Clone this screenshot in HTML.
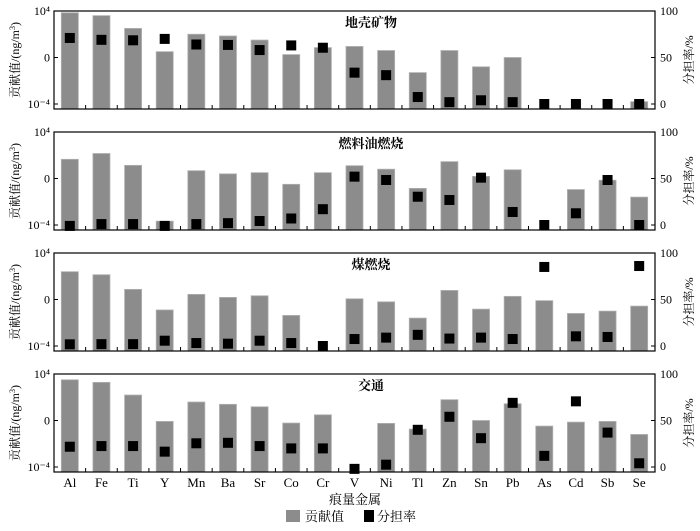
<!DOCTYPE html>
<html><head><meta charset="utf-8"><style>
body{margin:0;background:#fff}
svg text{font-family:"Liberation Serif","Noto Serif CJK SC",serif;fill:#000}
</style></head><body>
<svg id="c" width="700" height="526" viewBox="0 0 700 526" xmlns="http://www.w3.org/2000/svg"></svg>
<script>
const categories=["Al","Fe","Ti","Y","Mn","Ba","Sr","Co","Cr","V","Ni","Tl","Zn","Sn","Pb","As","Cd","Sb","Se"];
const panelTitles=["地壳矿物","燃料油燃烧","煤燃烧","交通"];
// log10 contribution values (null = no bar)
const contrib1=[3.85,3.6,2.5,0.5,2.0,1.85,1.5,0.25,0.85,0.95,0.6,-1.3,0.6,-0.8,0.0,null,null,null,-3.8];
const contrib2=[1.65,2.15,1.13,-3.67,0.67,0.4,0.5,-0.5,0.5,1.1,0.8,-0.85,1.45,0.18,0.75,null,-0.95,-0.15,-1.6];
const contrib3=[2.39,2.13,0.87,-0.9,0.44,0.18,0.32,-1.37,null,0.06,-0.2,-1.6,0.78,-0.83,0.27,-0.1,-1.2,-1.0,-0.57];
const contrib4=[3.5,3.28,2.19,-0.08,1.59,1.39,1.18,-0.22,0.49,null,-0.25,-0.74,1.79,0.0,1.44,-0.48,-0.14,-0.08,-1.2];
const share1=[71,69,68.5,70,64,63.5,58,63,60.5,33.7,31,7.5,2,4,2,0,0,0,0];
const share2=[-1,1,1,-1,1,2,4.3,7,17,52,48.4,30.4,26.9,50.9,14,0,12.6,48.4,0];
const share3=[1.8,2,2,5.7,3.2,2.5,5.7,3.2,0,7.5,9,12,8,9,7.5,85,10.4,9.7,86];
const share4=[21.8,22.5,22.5,16.5,25.5,26,22.5,20,20,-2,2.5,40,54,31,69,12,70.6,37,4];
const leftTicks=["10⁴","0","10⁻⁴"];
const rightTicks=["100","50","0"];
const contribs=[contrib1,contrib2,contrib3,contrib4];
const shares=[share1,share2,share3,share4];
const svg=document.getElementById('c');
const NS="http://www.w3.org/2000/svg";
function mk(t,a,txt){const e=document.createElementNS(NS,t);for(const k in a)e.setAttribute(k,a[k]);if(txt!==undefined)e.textContent=txt;svg.appendChild(e);return e;}
const L=54,R=655,W=(R-L)/categories.length;
const tops=[11,132,253,374];
function x(i){return L+(i+0.5)*W;}
tops.forEach((T,p)=>{
  const yLog=v=>T+46.5*(4-v)/4;
  const yPct=v=>T+93*(1-v/100);
  const B=T+98;
  contribs[p].forEach((v,i)=>{
    if(v===null)return;
    const r=mk('rect',{x:x(i)-8.5,y:yLog(v),width:17,height:B-yLog(v),fill:'#8c8c8c',stroke:'#b0b0b0','stroke-width':0.8});
    
    
  });
  shares[p].forEach((v,i)=>{
    const s=mk('rect',{x:x(i)-5,y:yPct(v)-5,width:10,height:10,fill:'#000'});
    
    
  });
  const f=mk('rect',{x:L,y:T,width:R-L,height:98,fill:'none',stroke:'#000','stroke-width':1.2});
  
  
  for(let i=1;i<categories.length;i++){mk('line',{x1:L+i*W,x2:L+i*W,y1:B,y2:B-4,stroke:'#000'});}
  [4,0,-4].forEach((v,k)=>{
    const yy=yLog(v);
    mk('line',{x1:L,x2:L+4,y1:yy,y2:yy,stroke:'#000'});
    const t=mk('text',{x:L-4,y:yy+4,'text-anchor':'end','font-size':12},leftTicks[k]);
    
    
  });
  [100,50,0].forEach((v,k)=>{
    const yy=yPct(v);
    mk('line',{x1:R,x2:R-4,y1:yy,y2:yy,stroke:'#000'});
    const t=mk('text',{x:R+5,y:yy+4,'font-size':12},rightTicks[k]);
    
    
  });
  const tt=mk('text',{x:371,y:T+16,'text-anchor':'middle','font-size':13,'font-weight':'bold'},panelTitles[p]);
  
  
  const yl=mk('text',{x:0,y:0,transform:`translate(19,${T+49}) rotate(-90)`,'text-anchor':'middle','font-size':12});
  
  
  yl.innerHTML='贡献值/(ng/m<tspan dy="-4" font-size="8">3</tspan><tspan dy="4">)</tspan>';
  const yr=mk('text',{x:0,y:0,transform:`translate(693,${T+49}) rotate(-90)`,'text-anchor':'middle','font-size':12},'分担率/%');
  
  
});
categories.forEach((c,i)=>{
  const t=mk('text',{x:x(i),y:487,'text-anchor':'middle','font-size':13},c);
  
  
});
const xt=mk('text',{x:355,y:504,'text-anchor':'middle','font-size':13},'痕量金属');


const lg1=mk('rect',{x:286,y:510,width:14,height:12,fill:'#8c8c8c'});


const lt1=mk('text',{x:305,y:521,'font-size':13},'贡献值');


const lg2=mk('rect',{x:364,y:510,width:10,height:12,fill:'#000'});


const lt2=mk('text',{x:377,y:521,'font-size':13},'分担率');


</script>
</body></html>
